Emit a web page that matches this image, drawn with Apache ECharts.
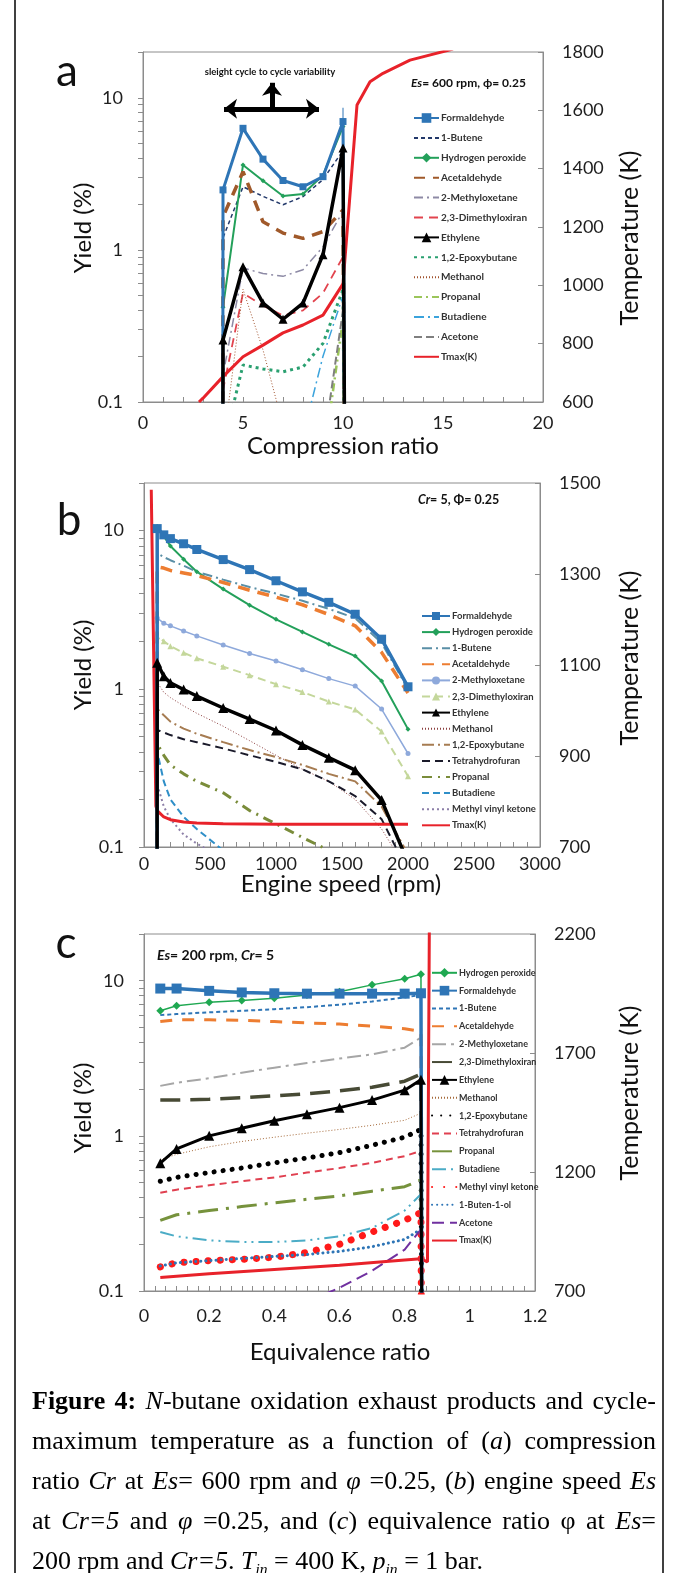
<!DOCTYPE html>
<html><head><meta charset="utf-8">
<script src="https://cdn.jsdelivr.net/npm/echarts@6/dist/echarts.min.js"></script>
<style>
html,body{margin:0;padding:0;background:#fff;}
#wrap{position:relative;width:678px;height:1573px;overflow:hidden;background:#fff;}
#chart{position:absolute;left:0;top:0;width:678px;height:1573px;}
#cap{position:absolute;left:32px;top:1381px;width:624px;font-family:'Liberation Serif','Times New Roman',serif;font-size:26px;line-height:40px;color:#000;}
#cap .l{text-align:justify;text-align-last:justify;}
#cap .last{text-align:left;text-align-last:left;}
#cap sub{font-size:60%;font-style:italic;vertical-align:-0.35em;line-height:0;}
</style></head>
<body>
<div id="wrap">
<div id="chart"></div>
<div id="cap">
<div class="l"><b>Figure 4:</b> <i>N</i>-butane oxidation exhaust products and cycle-</div>
<div class="l">maximum temperature as a function of (<i>a</i>) compression</div>
<div class="l">ratio <i>Cr</i> at <i>Es</i>= 600 rpm and <i>φ</i> =0.25, (<i>b</i>) engine speed <i>Es</i></div>
<div class="l">at <i>Cr=5</i> and <i>φ</i> =0.25, and (<i>c</i>) equivalence ratio φ at <i>Es</i>=</div>
<div class="l last">200 rpm and <i>Cr=5</i>. <i>T</i><sub>in</sub> = 400 K, <i>p</i><sub>in</sub> = 1 bar.</div>
</div>
</div>
<script>
// ---------------- Panel a : compression ratio ----------------
const crA = [3.98, 4, 5, 6, 7, 8, 9, 10, 10.15];
const formaldehydeA = [0.001, 2.48, 6.3, 3.95, 2.86, 2.6, 3.03, 6.98, 0.001];
const butene1A      = [0.001, 1.2, 2.6, 2.25, 1.98, 2.24, 2.9, 4.5, 0.001];
const h2o2A         = [0.001, 0.42, 3.62, 2.85, 2.26, 2.33, 3.1, 6.47, 0.001];
const acetA         = [0.001, 1.65, 3.27, 1.53, 1.29, 1.19, 1.32, 1.83, 0.001];
const methyloxA     = [0.001, 0.15, 0.76, 0.7, 0.67, 0.74, 1.05, 1.8, 0.001];
const dimethA       = [0.001, 0.12, 0.52, 0.43, 0.37, 0.40, 0.52, 0.9, 0.001];
const ethyleneA     = [0.001, 0.256, 0.776, 0.447, 0.35, 0.447, 0.93, 4.67, 0.001];
const epoxyA        = [null, 0.05, 0.175, 0.165, 0.158, 0.17, 0.243, 0.55, 0.001];
const methanolA     = [null, 0.05, 0.55, 0.22, 0.07, null, null, null, null];
const propanalA     = [null, null, null, null, null, null, 0.04, 0.35, 0.001];
const butadieneA    = [null, null, null, null, null, 0.06, 0.2, 0.5, 0.001];
const acetoneA      = [null, null, null, null, null, null, 0.05, 0.4, 0.001];
const errXA = [10, 10];
const errYA = [5.6, 8.6];
const tcrA  = [2.8, 3, 4, 5, 6, 7, 8, 9, 10, 10.7, 11.35, 12, 13.35, 15.5];
const tmaxA = [600, 613, 687, 755, 795, 837, 864, 898, 1005, 1618, 1698, 1727, 1772, 1810];
const arrowY = 8.47, arrowX = [4.05, 8.8], upArrowX = 6.45, upArrowTop = 12.55;

// ---------------- Panel b : engine speed ----------------
const esB = [98, 100, 150, 200, 300, 400, 600, 800, 1000, 1200, 1400, 1600, 1800, 2000];
const formaldehydeB = [0.001, 10.3, 9.4, 8.9, 8.26, 7.6, 6.56, 5.67, 4.82, 4.1, 3.52, 2.96, 2.06, 1.03];
const h2o2B         = [0.001, 10.6, 9.2, 8.0, 6.6, 5.5, 4.27, 3.38, 2.75, 2.29, 1.91, 1.61, 1.12, 0.556];
const butene1B      = [0.001, 7.2, 6.8, 6.5, 6.0, 5.5, 4.9, 4.4, 4.0, 3.6, 3.2, 2.8, 1.95, 1.0];
const acetB         = [0.001, 5.9, 5.8, 5.6, 5.4, 5.2, 4.7, 4.2, 3.8, 3.4, 2.95, 2.5, 1.7, 0.94];
const methyloxB     = [0.001, 2.8, 2.6, 2.5, 2.32, 2.16, 1.89, 1.67, 1.5, 1.32, 1.16, 1.04, 0.745, 0.39];
const dimethB       = [0.001, 2.15, 2.0, 1.86, 1.69, 1.56, 1.38, 1.22, 1.07, 0.955, 0.83, 0.74, 0.537, 0.28];
const ethyleneB     = [0.001, 1.46, 1.2, 1.09, 0.99, 0.9, 0.756, 0.644, 0.545, 0.442, 0.367, 0.306, 0.198, 0.08];
const methanolB     = [0.001, 1.1, 0.95, 0.88, 0.78, 0.7, 0.58, 0.47, 0.38, 0.31, 0.26, 0.2, 0.13, 0.07];
const epoxyB        = [0.001, 0.75, 0.68, 0.62, 0.56, 0.52, 0.46, 0.41, 0.37, 0.33, 0.29, 0.26, 0.18, 0.09];
const thfB          = [0.001, 0.55, 0.53, 0.51, 0.48, 0.46, 0.42, 0.38, 0.345, 0.31, 0.26, 0.21, 0.15, 0.07];
const propanalB     = [0.001, 0.45, 0.38, 0.33, 0.29, 0.26, 0.22, 0.17, 0.14, 0.115, 0.095, 0.08, null, null];
const butadieneB    = [0.001, 0.4, 0.26, 0.2, 0.155, 0.13, 0.095, 0.07, null, null, null, null, null, null];
const mvkB          = [0.001, 0.25, 0.18, 0.15, 0.12, 0.105, 0.085, null, null, null, null, null, null, null];
const tesB  = [55, 90, 100, 150, 200, 300, 400, 600, 1000, 1500, 2000];
const tmaxB = [1485, 790, 780, 766, 760, 755, 753, 751, 750, 750, 750];

// ---------------- Panel c : equivalence ratio ----------------
const phiC = [0.05, 0.1, 0.2, 0.3, 0.4, 0.5, 0.6, 0.7, 0.8, 0.85, 0.855];
const h2o2C         = [6.4, 6.9, 7.25, 7.45, 7.7, 8.1, 8.5, 9.4, 10.3, 11.0, 0.001];
const formaldehydeC = [8.9, 8.9, 8.6, 8.4, 8.3, 8.25, 8.25, 8.25, 8.25, 8.3, 0.001];
const butene1C      = [6.0, 6.1, 6.25, 6.4, 6.55, 6.75, 7.0, 7.35, 7.8, 8.1, 0.001];
const acetC         = [5.45, 5.6, 5.6, 5.55, 5.45, 5.35, 5.25, 5.1, 4.9, 4.7, 0.001];
const methyloxC     = [2.1, 2.2, 2.35, 2.55, 2.75, 2.95, 3.15, 3.35, 3.7, 4.3, 0.001];
const dimethC       = [1.7, 1.7, 1.72, 1.76, 1.81, 1.87, 1.95, 2.06, 2.25, 2.5, 0.001];
const ethyleneC     = [0.667, 0.824, 1.0, 1.12, 1.25, 1.38, 1.52, 1.7, 1.97, 2.3, 0.001];
const methanolC     = [0.7, 0.76, 0.85, 0.92, 0.98, 1.04, 1.1, 1.17, 1.26, 1.4, 0.001];
const epoxyC        = [0.51, 0.54, 0.58, 0.62, 0.67, 0.72, 0.78, 0.87, 0.98, 1.1, 0.001];
const thfC          = [0.43, 0.45, 0.48, 0.51, 0.54, 0.58, 0.62, 0.67, 0.74, 0.8, 0.001];
const propanalC     = [0.285, 0.31, 0.33, 0.35, 0.37, 0.39, 0.41, 0.44, 0.47, 0.52, 0.001];
const butadieneC    = [0.24, 0.225, 0.212, 0.207, 0.207, 0.212, 0.225, 0.255, 0.33, 0.42, 0.001];
const mvkC          = [0.143, 0.152, 0.157, 0.16, 0.165, 0.177, 0.2, 0.24, 0.285, 0.32, 0.001];
const butenolC      = [0.145, 0.152, 0.157, 0.162, 0.167, 0.172, 0.18, 0.193, 0.215, 0.25, 0.001];
const acetoneC      = [null, null, null, null, 0.07, 0.085, 0.105, 0.135, 0.185, 0.25, 0.001];
const tphiC = [0.05, 0.2, 0.4, 0.6, 0.8, 0.85, 0.87, 0.876];
const tmaxC = [757, 772, 790, 808, 830, 835, 822, 2300];

// ---------------- axis tick labels ----------------
const yieldLabels = [0.1, 1, 10];
const tempLabelsA = [600, 800, 1000, 1200, 1400, 1600, 1800];
const tempLabelsB = [700, 900, 1100, 1300, 1500];
const tempLabelsC = [700, 1200, 1700, 2200];

// ------------------------------------------------------------
const FONT = 'Lato';
const AX = '#8c8c8c';
const LBL = '#1e1e1e';
const logTicks = [];
[0.1, 1, 10].forEach(d => { for (let k = 1; k <= 9; k++) logTicks.push(+(d * k).toPrecision(3)); });
logTicks.push(20);
const fmt = v => String(+(+v).toPrecision(6));

function pts(xs, ys, hideLow) {
  const out = [];
  for (let i = 0; i < xs.length; i++) {
    if (ys[i] == null) continue;
    if (hideLow && ys[i] < 0.1) out.push({ value: [xs[i], ys[i]], symbol: 'none' });
    else out.push([xs[i], ys[i]]);
  }
  return out;
}
function S(p, name, gi, xs, ys, st, right) {
  return {
    type: 'line', name: p + '|' + name, xAxisIndex: gi, yAxisIndex: gi * 2 + (right ? 1 : 0),
    data: pts(xs, ys, !right && !!st.symbol),
    symbol: st.symbol || 'none', symbolSize: st.size || 6, showSymbol: !!st.symbol,
    lineStyle: { color: st.color, width: st.w, type: st.dash || 'solid', cap: st.cap || 'butt' },
    itemStyle: { color: st.color, opacity: st.symbol ? 1 : 0 },
    animation: false, clip: true, connectNulls: true, silent: true, z: st.z || 2
  };
}
const BLUE = '#2e75b6', RED = '#e8222a';
const series = [];
// panel a
const aDefs = [
  ['Formaldehyde', formaldehydeA, { color: BLUE, w: 3, symbol: 'rect', size: 7, z: 4 }],
  ['1-Butene', butene1A, { color: '#22386a', w: 1.5, dash: [4, 3] }],
  ['Hydrogen peroxide', h2o2A, { color: '#23a05a', w: 2, symbol: 'diamond', size: 5 }],
  ['Acetaldehyde', acetA, { color: '#a0592a', w: 3.5, dash: [11, 8] }],
  ['2-Methyloxetane', methyloxA, { color: '#8d8aa5', w: 1.5, dash: [9, 4, 2, 4] }],
  ['2,3-Dimethyloxiran', dimethA, { color: '#e2444e', w: 1.8, dash: [9, 6] }],
  ['Ethylene', ethyleneA, { color: '#000', w: 3.5, symbol: 'triangle', size: 9, z: 4 }],
  ['1,2-Epoxybutane', epoxyA, { color: '#2aa070', w: 3, dash: [3, 4] }],
  ['Methanol', methanolA, { color: '#a0522d', w: 1, dash: [1, 2] }],
  ['Propanal', propanalA, { color: '#9bc55a', w: 2.5, dash: [8, 4, 2, 4] }],
  ['Butadiene', butadieneA, { color: '#3ba3dc', w: 1.5, dash: [10, 4, 2, 4] }],
  ['Acetone', acetoneA, { color: '#7f7f7f', w: 2, dash: [8, 4] }]
];
aDefs.forEach(d => series.push(S('a', d[0], 0, crA, d[1], d[2])));
series.push(S('a', 'Tmax(K)', 0, tcrA, tmaxA, { color: RED, w: 3, z: 3 }, true));
series.push({ type: 'line', xAxisIndex: 0, yAxisIndex: 0, data: pts(errXA, errYA), symbol: 'none',
  lineStyle: { color: BLUE, width: 1 }, silent: true, animation: false, z: 5 });
series.push({ type: 'line', xAxisIndex: 0, yAxisIndex: 0, data: [], silent: true, animation: false,
  markLine: { silent: true, animation: false, symbol: ['arrow', 'arrow'], symbolSize: [15, 13],
    lineStyle: { color: '#000', width: 5, type: 'solid' }, label: { show: false }, emphasis: { disabled: true },
    data: [
      [{ coord: [arrowX[0], arrowY] }, { coord: [arrowX[1], arrowY] }],
      [{ coord: [upArrowX, arrowY], symbol: 'none' }, { coord: [upArrowX, upArrowTop], symbol: 'arrow' }]
    ] } });
// panel b
const bDefs = [
  ['Formaldehyde', formaldehydeB, { color: BLUE, w: 3.5, symbol: 'rect', size: 9, z: 4 }],
  ['Hydrogen peroxide', h2o2B, { color: '#23a05a', w: 2, symbol: 'diamond', size: 5 }],
  ['1-Butene', butene1B, { color: '#5a8fa6', w: 2, dash: [10, 4, 2, 4] }],
  ['Acetaldehyde', acetB, { color: '#ed7d31', w: 3.5, dash: [12, 8] }],
  ['2-Methyloxetane', methyloxB, { color: '#8ea9db', w: 1.5, symbol: 'circle', size: 5 }],
  ['2,3-Dimethyloxiran', dimethB, { color: '#c4d79b', w: 2, dash: [8, 5], symbol: 'triangle', size: 6 }],
  ['Ethylene', ethyleneB, { color: '#000', w: 3.5, symbol: 'triangle', size: 10, z: 4 }],
  ['Methanol', methanolB, { color: '#8b3f3f', w: 1, dash: [1, 2] }],
  ['1,2-Epoxybutane', epoxyB, { color: '#a67c52', w: 2, dash: [12, 4, 2, 4] }],
  ['Tetrahydrofuran', thfB, { color: '#1a1a2a', w: 2, dash: [8, 5] }],
  ['Propanal', propanalB, { color: '#7a8c3a', w: 3, dash: [10, 6, 2, 6] }],
  ['Butadiene', butadieneB, { color: '#2f8fc8', w: 2, dash: [7, 4] }],
  ['Methyl vinyl ketone', mvkB, { color: '#8c7fa8', w: 2, dash: [2, 3] }]
];
bDefs.forEach(d => series.push(S('b', d[0], 1, esB, d[1], d[2])));
series.push(S('b', 'Tmax(K)', 1, tesB, tmaxB, { color: RED, w: 3, z: 3 }, true));
// panel c
const cDefs = [
  ['Hydrogen peroxide', h2o2C, { color: '#1fa851', w: 1.5, symbol: 'diamond', size: 8 }],
  ['Formaldehyde', formaldehydeC, { color: BLUE, w: 3.5, symbol: 'rect', size: 10, z: 4 }],
  ['1-Butene', butene1C, { color: BLUE, w: 2, dash: [4, 3] }],
  ['Acetaldehyde', acetC, { color: '#ed7d31', w: 3, dash: [12, 10] }],
  ['2-Methyloxetane', methyloxC, { color: '#a6a6a6', w: 2, dash: [14, 5, 3, 5] }],
  ['2,3-Dimethyloxiran', dimethC, { color: '#474a35', w: 3.5, dash: [20, 10] }],
  ['Ethylene', ethyleneC, { color: '#000', w: 3, symbol: 'triangle', size: 10, z: 4 }],
  ['Methanol', methanolC, { color: '#a56a3a', w: 1, dash: [1, 2] }],
  ['1,2-Epoxybutane', epoxyC, { color: '#000', w: 5, dash: [0.1, 9], cap: 'round' }],
  ['Tetrahydrofuran', thfC, { color: '#e04050', w: 2, dash: [7, 5] }],
  ['Propanal', propanalC, { color: '#76923c', w: 3, dash: [20, 8, 3, 8] }],
  ['Butadiene', butadieneC, { color: '#4bacc6', w: 2, dash: [14, 5, 2, 5, 2, 5] }],
  ['Methyl vinyl ketone', mvkC, { color: '#ff1a1a', w: 7, dash: [0.1, 12], cap: 'round' }],
  ['1-Buten-1-ol', butenolC, { color: BLUE, w: 3, dash: [0.1, 5], cap: 'round' }],
  ['Acetone', acetoneC, { color: '#7030a0', w: 2, dash: [12, 6] }]
];
cDefs.forEach(d => series.push(S('c', d[0], 2, phiC, d[1], d[2])));
series.push(S('c', 'Tmax(K)', 2, tphiC, tmaxC, { color: RED, w: 3, z: 3 }, true));

function legend(p, defs, left, top, iw, ih, gap, fs) {
  const items = defs.map(d => ({ name: p + '|' + d[0], itemStyle: { opacity: d[2].symbol ? 1 : 0 } }));
  items.push({ name: p + '|Tmax(K)', itemStyle: { opacity: 0 } });
  return {
    orient: 'vertical', left: left, top: top, padding: 0, itemWidth: iw, itemHeight: ih, itemGap: gap,
    selectedMode: false, data: items,
    formatter: n => n.split('|')[1],
    textStyle: { fontFamily: FONT, fontWeight: 'bold', fontSize: fs, color: '#333', padding: [0, 0, 0, -3] }
  };
}
function xAx(gi, min, max, interval, split, margin) {
  return { gridIndex: gi, type: 'value', min: min, max: max, interval: interval,
    axisLine: { show: true, onZero: false, lineStyle: { color: AX } },
    axisTick: { show: true, inside: true, length: 5, lineStyle: { color: AX } },
    minorTick: { show: true, splitNumber: split, length: 5, lineStyle: { color: AX } },
    splitLine: { show: false }, minorSplitLine: { show: false },
    axisLabel: { margin: margin, formatter: fmt, fontFamily: FONT, fontSize: 18, color: LBL } };
}
function yLog(gi) {
  return { gridIndex: gi, type: 'log', logBase: 10, min: 0.1, max: 20, position: 'left',
    axisLine: { show: true, lineStyle: { color: AX } },
    axisTick: { show: true, inside: false, length: 5, customValues: logTicks, lineStyle: { color: AX } },
    splitLine: { show: false },
    axisLabel: { customValues: yieldLabels, formatter: fmt, margin: 20, fontFamily: FONT, fontSize: 18, color: LBL } };
}
function yT(gi, min, max, labels) {
  return { gridIndex: gi, type: 'value', min: min, max: max, position: 'right',
    axisLine: { show: true, lineStyle: { color: AX } },
    axisTick: { show: true, inside: true, length: 5, customValues: labels, lineStyle: { color: AX } },
    splitLine: { show: false },
    axisLabel: { customValues: labels, formatter: fmt, margin: 19, fontFamily: FONT, fontSize: 18, color: LBL } };
}
function T(x, y, text, fs, extra) {
  return { type: 'text', x: x, y: y, silent: true,
    style: Object.assign({ text: text, fontFamily: FONT, fontSize: fs, fill: '#111', align: 'center', verticalAlign: 'middle' }, extra || {}) };
}
function VT(x, y, text, fs) {
  return { type: 'text', x: x, y: y, rotation: Math.PI / 2, silent: true,
    style: { text: text, fontFamily: FONT, fontSize: fs, fill: '#111', align: 'center', verticalAlign: 'middle' } };
}
const ita = { fontStyle: 'italic', fontWeight: 'bold', fontFamily: FONT };
function RT(x, y, text, fs) {
  return { type: 'text', x: x, y: y, silent: true,
    style: { text: text, fontFamily: FONT, fontWeight: 'bold', fontSize: fs, fill: '#111', align: 'left', verticalAlign: 'middle',
      rich: { i: Object.assign({ fontSize: fs }, ita) } } };
}
const graphics = [
  { type: 'line', shape: { x1: 15, y1: 0, x2: 15, y2: 1573 }, style: { stroke: '#000', lineWidth: 1.5 }, silent: true },
  { type: 'line', shape: { x1: 663, y1: 0, x2: 663, y2: 1573 }, style: { stroke: '#000', lineWidth: 1.5 }, silent: true },
  T(67, 72, 'a', 44), T(69, 521, 'b', 44), T(66, 944, 'c', 44),
  VT(83, 228, 'Yield (%)', 24), VT(83, 665, 'Yield (%)', 24), VT(83, 1108, 'Yield (%)', 24),
  VT(630, 238, 'Temperature (K)', 25), VT(630, 658, 'Temperature (K)', 25), VT(630, 1093, 'Temperature (K)', 25),
  T(343, 446, 'Compression ratio', 24), T(341, 884, 'Engine speed (rpm)', 24), T(340, 1352, 'Equivalence ratio', 24),
  T(270, 72, 'sleight cycle to cycle variability', 9.5, { fontWeight: 'bold' }),
  RT(411, 83, '{i|Es}= 600 rpm, ϕ= 0.25', 12),
  RT(418, 500, '{i|Cr}= 5, Φ= 0.25', 12.5),
  RT(157, 955, '{i|Es}= 200 rpm, {i|Cr}= 5', 14)
];

const option = {
  animation: false,
  textStyle: { fontFamily: FONT },
  grid: [
    { left: 143, top: 52, width: 400, height: 350, show: true, borderColor: AX, borderWidth: 1, containLabel: false },
    { left: 144, top: 483, width: 396, height: 364, show: true, borderColor: AX, borderWidth: 1, containLabel: false },
    { left: 144, top: 934, width: 391, height: 357, show: true, borderColor: AX, borderWidth: 1, containLabel: false }
  ],
  xAxis: [xAx(0, 0, 20, 5, 5, 12), xAx(1, 0, 3000, 500, 5, 8), xAx(2, 0, 1.2, 0.2, 6, 16)],
  yAxis: [yLog(0), yT(0, 600, 1800, tempLabelsA), yLog(1), yT(1, 700, 1500, tempLabelsB), yLog(2), yT(2, 700, 2200, tempLabelsC)],
  legend: [
    legend('a', aDefs, 413, 113, 25, 12, 9.9, 10),
    legend('b', bDefs, 421, 611, 28, 10, 6.1, 9.5),
    legend('c', cDefs, 431, 968, 25, 12, 8.25, 9)
  ],
  graphic: graphics,
  series: series
};
const chart = echarts.init(document.getElementById('chart'), null, { renderer: 'canvas' });
chart.setOption(option);
</script>
</body></html>
